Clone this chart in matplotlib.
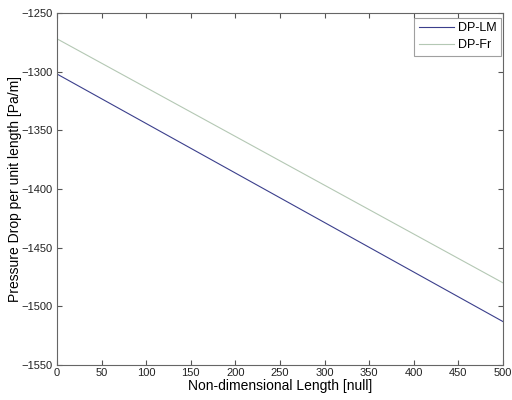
import numpy as np
import matplotlib
matplotlib.use('Agg')
import matplotlib.pyplot as plt

plt.rcParams['font.family'] = ['Liberation Sans', 'DejaVu Sans']

# endpoints (lines are straight)
length = [0, 500]
dp_lm = [-1302, -1513]
dp_fr = [-1272, -1480]

x_ticks = [0, 50, 100, 150, 200, 250, 300, 350, 400, 450, 500]
y_ticks = [-1550, -1500, -1450, -1400, -1350, -1300, -1250]

fig = plt.figure(figsize=(5.12, 4.0), dpi=100)
# axes box in pixels: left 57, right 503, top 13, bottom 365
ax = fig.add_axes([57/512, 35/400, 446/512, 352/400])

ax.plot(length, dp_lm, color='#3b3f8c', lw=0.8, label='DP-LM')
ax.plot(length, dp_fr, color='#b4c8b4', lw=0.8, label='DP-Fr')

ax.set_xlim(0, 500)
ax.set_ylim(-1550, -1250)
ax.set_xticks(x_ticks)
ax.set_yticks(y_ticks)
ax.tick_params(direction='in', top=True, right=True, labelsize=8, length=3.6,
               color='#555555', labelcolor='#222222')
ax.tick_params(axis='x', pad=2.5)
ax.tick_params(axis='y', pad=3)
for s in ax.spines.values():
    s.set_color('#666666')
    s.set_linewidth(0.8)

ax.set_xlabel('Non-dimensional Length [null]', fontsize=10)
ax.set_ylabel('Pressure Drop per unit length [Pa/m]', fontsize=10)
ax.xaxis.set_label_coords(0.5, -21/352)
ax.yaxis.set_label_coords(-42/446, 0.5)
ax.xaxis.label.set_va('center')
ax.yaxis.label.set_va('center')

leg = ax.legend(loc='upper right', bbox_to_anchor=(1 - 2/446, 1 - 5/352),
                fontsize=9, frameon=True, fancybox=False,
                borderaxespad=0, handlelength=2.8, handletextpad=0.35,
                borderpad=0.35, labelspacing=0.4)
leg.get_frame().set_edgecolor('#888888')
leg.get_frame().set_linewidth(0.8)

fig.savefig('out.png', dpi=100)
